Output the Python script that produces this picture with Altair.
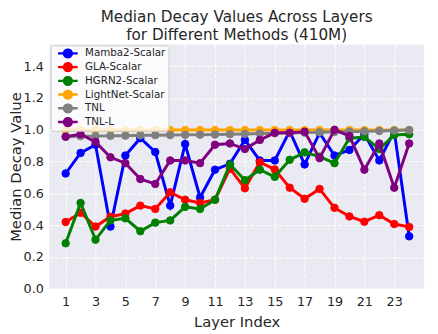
import altair as alt
import pandas as pd

layers = list(range(1, 25))
methods = ["Mamba2-Scalar", "GLA-Scalar", "HGRN2-Scalar", "LightNet-Scalar", "TNL", "TNL-L"]
colors = ["#0000FF", "#FF0000", "#008000", "#FFA500", "#808080", "#800080"]

mamba2 = [0.725, 0.854, 0.906, 0.391, 0.838, 0.947, 0.86, 0.523, 0.91, 0.574, 0.749, 0.786,
          0.936, 0.807, 0.807, 0.992, 0.782, 0.98, 0.838, 0.873, 0.972, 0.807, 0.99, 0.33]
gla = [0.42, 0.478, 0.391, 0.453, 0.473, 0.523, 0.502, 0.607, 0.56, 0.54, 0.56, 0.755,
       0.632, 0.796, 0.751, 0.636, 0.566, 0.628, 0.509, 0.455, 0.422, 0.463, 0.407, 0.389]
hgrn2 = [0.286, 0.54, 0.309, 0.43, 0.443, 0.362, 0.416, 0.43, 0.515, 0.502, 0.56, 0.782,
         0.683, 0.749, 0.704, 0.811, 0.858, 0.831, 0.79, 0.947, 0.955, 0.879, 0.967, 0.972]
lightnet = [0.998, 0.998, 0.998, 0.998, 0.998, 0.998, 0.998, 0.998, 0.998, 0.998, 0.998, 0.998,
            0.998, 0.998, 0.998, 0.998, 0.998, 0.998, 0.998, 0.998, 0.998, 0.998, 0.998, 0.998]
tnl = [0.955, 0.96, 0.96, 0.962, 0.963, 0.965, 0.966, 0.967, 0.968, 0.969, 0.97, 0.972,
       0.974, 0.976, 0.978, 0.98, 0.982, 0.984, 0.986, 0.988, 0.99, 0.992, 0.995, 0.998]
tnl_l = [0.957, 0.972, 0.924, 0.827, 0.79, 0.69, 0.659, 0.807, 0.807, 0.79, 0.906, 0.914,
         0.879, 0.936, 0.981, 0.981, 0.988, 0.821, 1.0, 0.961, 0.749, 0.914, 0.636, 0.914]

x_ticks = list(range(1, 24, 2))
y_ticks = [0.0, 0.2, 0.4, 0.6, 0.8, 1.0, 1.2, 1.4]

series = [mamba2, gla, hgrn2, lightnet, tnl, tnl_l]
rows = []
for m, vals in zip(methods, series):
    for l, v in zip(layers, vals):
        rows.append({"layer": l, "value": v, "method": m})
df = pd.DataFrame(rows)

FONT = "DejaVu Sans"
TXT = "#262626"

scale = alt.Scale(domain=methods, range=colors)
sym_path = "M-0.4,0L3.6,0M0.8,0a0.8,0.8 0 1,0 1.6,0a0.8,0.8 0 1,0 -1.6,0"
legend = alt.Legend(
    title=None, orient="none", legendX=1.5, legendY=1,
    fillColor="rgba(255,255,255,0.8)", strokeColor="#cccccc", cornerRadius=3,
    padding=3, labelFont=FONT, labelFontSize=10.5, labelColor=TXT,
    symbolType=sym_path, symbolSize=100, symbolStrokeWidth=2.5,
    rowPadding=3, labelOffset=19, clipHeight=10.3,
)

xenc = alt.X("layer:Q", scale=alt.Scale(domain=[-0.1, 25.0], nice=False, zero=False),
             axis=alt.Axis(values=x_ticks, title="Layer Index", grid=True))
yenc = alt.Y("value:Q", scale=alt.Scale(domain=[0, 1.537], nice=False),
             axis=alt.Axis(values=y_ticks, format=".1f", title="Median Decay Value", grid=True))

layer_list = []
for m in methods:
    base = alt.Chart(df).transform_filter(alt.datum.method == m)
    line = base.mark_line(strokeWidth=3).encode(
        x=xenc, y=yenc,
        stroke=alt.Stroke("method:N", scale=scale, legend=legend),
    )
    pts = base.mark_point(filled=True, size=58, opacity=1, strokeWidth=1).encode(
        x=xenc, y=yenc,
        fill=alt.Fill("method:N", scale=scale, legend=legend),
        stroke=alt.Stroke("method:N", scale=scale, legend=legend),
    )
    layer_list += [line, pts]

chart = alt.layer(*layer_list).properties(
    width=382, height=249,
    title=alt.TitleParams(
        text=["Median Decay Values Across Layers", "for Different Methods (410M)"],
        font=FONT, fontSize=15.5, fontWeight="normal", color=TXT, anchor="middle",
        offset=1, lineHeight=18,
    ),
    autosize=alt.AutoSizeParams(type="none"),
    padding={"left": 42, "top": 34, "right": 6, "bottom": 43},
).configure_view(
    fill="#EAEAF2", stroke=None,
).configure_axis(
    domain=False, ticks=False, gridColor="white", gridDash=[4, 2], gridWidth=1,
    labelFont=FONT, labelFontSize=13, labelColor=TXT,
    titleFont=FONT, titleFontSize=15, titleFontWeight="normal", titleColor=TXT,
).configure_axisX(
    labelPadding=7, titlePadding=6,
).configure_axisY(
    labelPadding=6, titlePadding=0,
)

chart.save("out.html", embed_options={"renderer": "svg", "actions": False})
